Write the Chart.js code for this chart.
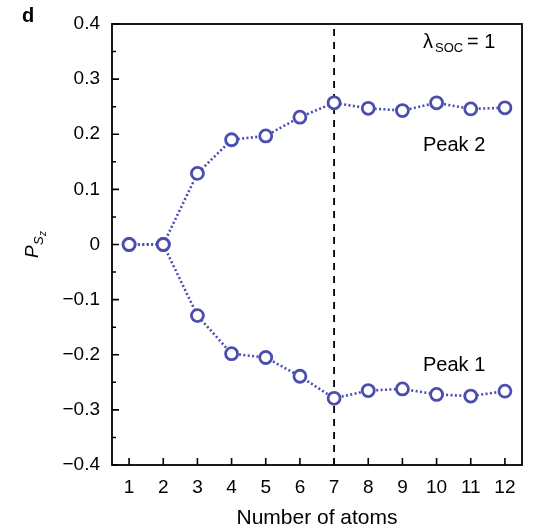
<!DOCTYPE html>
<html>
<head>
<meta charset="utf-8">
<script src="https://cdn.jsdelivr.net/npm/chart.js@4/dist/chart.umd.min.js"></script>
<style>
  html, body { margin: 0; padding: 0; background: #fff; }
  canvas { display: block; }
</style>
</head>
<body>
<canvas id="c" width="533" height="528"></canvas>
<script>
// ---- data ----
const atoms = [1, 2, 3, 4, 5, 6, 7, 8, 9, 10, 11, 12];
const peak2 = [0, 0, 0.129, 0.19, 0.197, 0.231, 0.257, 0.247, 0.243, 0.257, 0.246, 0.248];
const peak1 = [0, 0, -0.129, -0.198, -0.205, -0.239, -0.279, -0.265, -0.262, -0.272, -0.275, -0.266];
const markerAtom = 7;
const xTickValues = [1, 2, 3, 4, 5, 6, 7, 8, 9, 10, 11, 12];
const yTickValues = [-0.4, -0.3, -0.2, -0.1, 0, 0.1, 0.2, 0.3, 0.4];
const yMinorTickValues = [-0.35, -0.25, -0.15, -0.05, 0.05, 0.15, 0.25, 0.35];

const FONT = '"Liberation Sans", Arial, Helvetica, sans-serif';
const BLUE = 'rgb(74, 79, 175)';

function toPoints(xs, ys) { return xs.map((x, i) => ({ x: x, y: ys[i] })); }

const decor = {
  id: 'decor',
  afterDraw(chart) {
    const ctx = chart.ctx;
    const a = chart.chartArea;
    const xs = chart.scales.x, ys = chart.scales.y;
    ctx.save();
    // frame
    ctx.strokeStyle = '#000';
    ctx.lineWidth = 1.8;
    ctx.strokeRect(a.left, a.top, a.right - a.left, a.bottom - a.top);
    // inward ticks
    ctx.lineWidth = 1.6;
    ctx.beginPath();
    xTickValues.forEach(v => {
      const px = xs.getPixelForValue(v);
      ctx.moveTo(px, a.bottom); ctx.lineTo(px, a.bottom - 7);
    });
    yTickValues.forEach(v => {
      const py = ys.getPixelForValue(v);
      ctx.moveTo(a.left, py); ctx.lineTo(a.left + 7, py);
    });
    yMinorTickValues.forEach(v => {
      const py = ys.getPixelForValue(v);
      ctx.moveTo(a.left, py); ctx.lineTo(a.left + 4, py);
    });
    ctx.stroke();

    ctx.fillStyle = '#000';
    ctx.textBaseline = 'alphabetic';
    ctx.textAlign = 'left';
    // panel letter
    ctx.font = 'bold 20px ' + FONT;
    ctx.fillText('d', 22, 22);
    // annotations
    ctx.font = '20px ' + FONT;
    ctx.fillText('Peak 2', 423, 151);
    ctx.fillText('Peak 1', 423, 371);
    ctx.fillText('\u03BB', 423, 48);
    ctx.font = '13px ' + FONT;
    ctx.fillText('SOC', 435, 52);
    ctx.font = '20px ' + FONT;
    ctx.fillText('= 1', 467, 48);
    // x title
    ctx.textAlign = 'center';
    ctx.font = '21px ' + FONT;
    ctx.fillText('Number of atoms', (a.left + a.right) / 2, 524);
    // y title (rotated)
    ctx.translate(38, 258);
    ctx.rotate(-Math.PI / 2);
    ctx.textAlign = 'left';
    ctx.font = 'italic 19px ' + FONT;
    ctx.fillText('P', 0, 0);
    ctx.font = 'italic 13px ' + FONT;
    ctx.fillText('S', 13, 5);
    ctx.font = 'italic 10px ' + FONT;
    ctx.fillText('z', 22, 8);
    ctx.restore();
  }
};

const lineDs = (label, ys, order) => ({
  label: label,
  data: toPoints(atoms, ys),
  showLine: true,
  borderColor: BLUE,
  borderWidth: 2.6,
  borderDash: [2, 2.4],
  pointRadius: 6,
  pointBorderWidth: 2.8,
  pointBackgroundColor: '#fff',
  pointBorderColor: BLUE,
  order: order
});

new Chart(document.getElementById('c'), {
  type: 'scatter',
  data: {
    datasets: [
      {
        label: 'N = 7',
        data: [{ x: markerAtom, y: -0.4 }, { x: markerAtom, y: 0.4 }],
        showLine: true,
        borderColor: '#000',
        borderWidth: 1.8,
        borderDash: [7, 6],
        pointRadius: 0,
        order: 5
      },
      lineDs('Peak 2', peak2, 2),
      lineDs('Peak 1', peak1, 1)
    ]
  },
  options: {
    responsive: false,
    animation: false,
    devicePixelRatio: 1,
    layout: { padding: { left: 0, right: 11, top: 24, bottom: 0 } },
    plugins: { legend: { display: false }, tooltip: { enabled: false } },
    scales: {
      x: {
        type: 'linear',
        min: 0.5, max: 12.5,
        grid: { display: false },
        border: { display: false },
        afterBuildTicks: s => { s.ticks = xTickValues.map(v => ({ value: v })); },
        ticks: {
          color: '#000',
          font: { family: FONT, size: 19 },
          padding: 3,
          maxRotation: 0,
          callback: v => String(v)
        },
        afterFit: s => { s.height = 63; }
      },
      y: {
        type: 'linear',
        min: -0.4, max: 0.4,
        grid: { display: false },
        border: { display: false },
        afterBuildTicks: s => { s.ticks = yTickValues.map(v => ({ value: v })); },
        ticks: {
          color: '#000',
          font: { family: FONT, size: 19 },
          padding: 4,
          callback: v => {
            const r = Math.round(v * 10) / 10;
            if (r === 0) return '0';
            const t = Math.abs(r).toFixed(1);
            return r < 0 ? '\u2212' + t : t;
          }
        },
        afterFit: s => { s.width = 112; }
      }
    }
  },
  plugins: [decor]
});
</script>
</body>
</html>
